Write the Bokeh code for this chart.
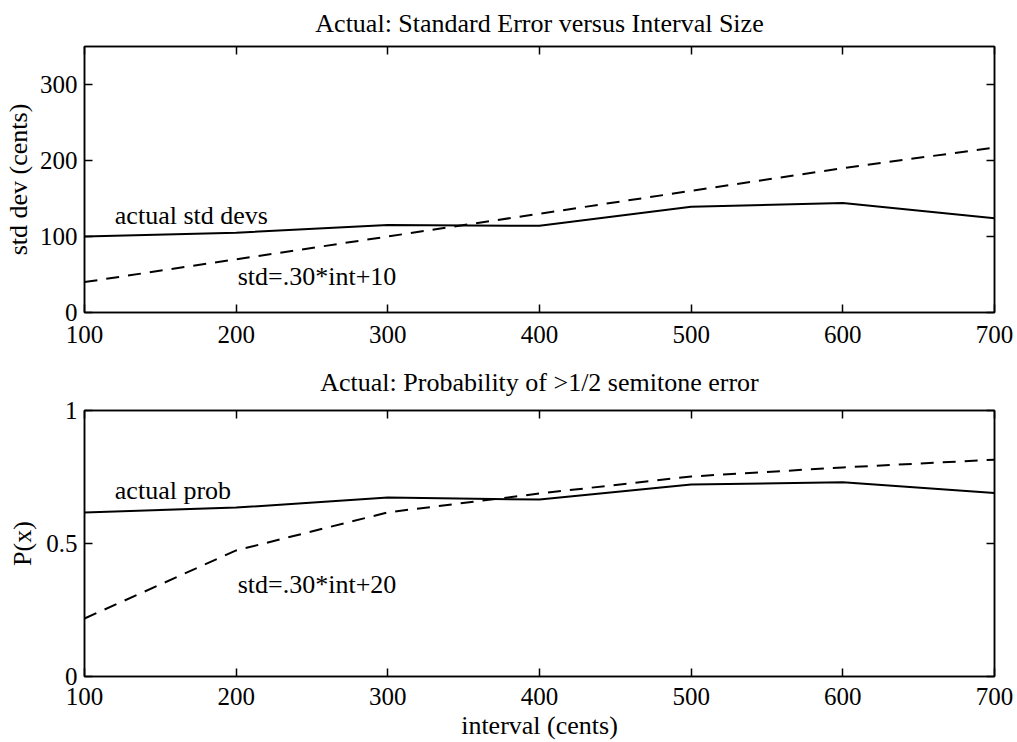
from bokeh.plotting import figure
from bokeh.models import LinearAxis, Range1d, FixedTicker, Label
from bokeh.layouts import column
from bokeh.embed import file_html
from bokeh.resources import INLINE

# ---- data ----
intervals = [100, 200, 300, 400, 500, 600, 700]
actual_std = [100, 105, 115, 114, 139, 144, 124]
model_std = [40, 70, 100, 130, 160, 190, 217]
actual_prob = [0.617, 0.635, 0.673, 0.665, 0.722, 0.730, 0.690]
model_prob = [0.218, 0.474, 0.617, 0.688, 0.752, 0.786, 0.815]

x_ticks = [100, 200, 300, 400, 500, 600, 700]
std_ticks = [0, 100, 200, 300]
prob_ticks = [0, 0.5, 1]
prob_tick_labels = {0: "0", 0.5: "0.5", 1: "1"}

title1 = "Actual: Standard Error versus Interval Size"
title2 = "Actual: Probability of >1/2 semitone error"
ylabel1 = "std dev (cents)"
ylabel2 = "P(x)"
xlabel = "interval (cents)"

label_actual_std = ("actual std devs", 120, 128)
label_model_std = ("std=.30*int+10", 201, 47)
label_actual_prob = ("actual prob", 120, 0.70)
label_model_prob = ("std=.30*int+20", 201, 0.345)

FONT = "Liberation Serif"
FS = "26px"
TFS = "25px"


def style_axis(ax, ticks, show_labels=True):
    ax.ticker = FixedTicker(ticks=ticks)
    ax.major_tick_in = 8
    ax.major_tick_out = 0
    ax.minor_tick_line_color = None
    ax.axis_line_color = "black"
    ax.axis_line_width = 1.5
    ax.major_tick_line_color = "black"
    ax.major_tick_line_width = 1.5
    ax.major_label_text_font = FONT
    ax.major_label_text_font_size = TFS
    ax.major_label_text_color = "black"
    ax.axis_label_text_font = FONT
    ax.axis_label_text_font_size = FS
    ax.axis_label_text_font_style = "normal"
    ax.axis_label_text_color = "black"
    if not show_labels:
        ax.major_label_overrides = {t: "" for t in ticks}
        ax.major_label_standoff = 0


def make_fig(height, yrange, yticks, border_top, border_bottom, title, title_standoff):
    p = figure(width=1017, height=height,
               x_range=Range1d(100, 700), y_range=yrange,
               output_backend="svg", toolbar_location=None,
               min_border_left=84, min_border_right=23,
               min_border_top=border_top, min_border_bottom=border_bottom,
               title=title)
    p.background_fill_color = "white"
    p.border_fill_color = "white"
    p.outline_line_color = "black"
    p.outline_line_width = 1.5
    p.xgrid.visible = False
    p.ygrid.visible = False
    p.title.align = "center"
    p.title.vertical_align = "top"
    p.title.text_font = FONT
    p.title.text_font_size = FS
    p.title.text_font_style = "normal"
    p.title.text_color = "black"
    p.title.standoff = title_standoff
    xb = p.xaxis[0]
    yl = p.yaxis[0]
    style_axis(xb, x_ticks)
    style_axis(yl, yticks)
    xb.major_label_standoff = 13
    yl.major_label_standoff = 7
    top = LinearAxis()
    style_axis(top, x_ticks, show_labels=False)
    right = LinearAxis()
    style_axis(right, yticks, show_labels=False)
    p.add_layout(top, "above")
    p.add_layout(right, "right")
    return p, xb, yl


# ---- top panel ----
p1, x1, y1 = make_fig(354, Range1d(0, 350), std_ticks, 46, 42, title1, 14)
y1.axis_label = ylabel1
y1.axis_label_standoff = 4
p1.line(intervals, actual_std, line_color="black", line_width=2)
p1.line(intervals, model_std, line_color="black", line_width=2, line_dash="13 9")
for txt, lx, ly in (label_actual_std, label_model_std):
    p1.add_layout(Label(x=lx, y=ly, text=txt, text_font=FONT, text_font_size=FS,
                        text_baseline="middle", text_align="left", text_color="black"))

# ---- bottom panel ----
p2, x2, y2 = make_fig(388, Range1d(0, 1), prob_ticks, 56, 66, title2, 24)
y2.major_label_overrides = prob_tick_labels
y2.axis_label = ylabel2
y2.axis_label_standoff = 6
x2.major_label_standoff = 11
x2.axis_label = xlabel
x2.axis_label_standoff = 3
p2.line(intervals, actual_prob, line_color="black", line_width=2)
p2.line(intervals, model_prob, line_color="black", line_width=2, line_dash="13 9")
for txt, lx, ly in (label_actual_prob, label_model_prob):
    p2.add_layout(Label(x=lx, y=ly, text=txt, text_font=FONT, text_font_size=FS,
                        text_baseline="middle", text_align="left", text_color="black"))

layout = column(p1, p2, spacing=0)
open("out.html", "w").write(file_html(layout, INLINE))
